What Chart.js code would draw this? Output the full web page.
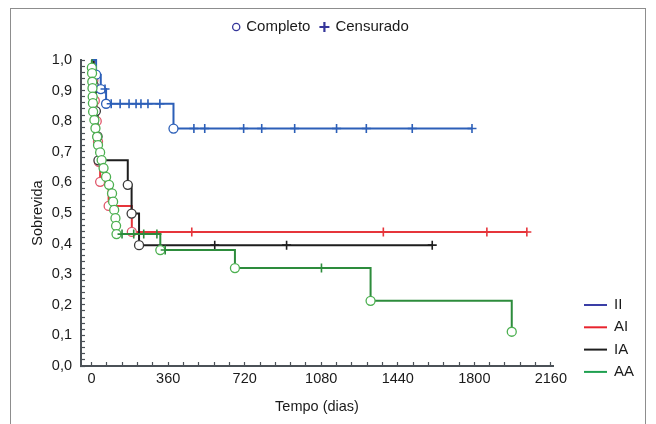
<!DOCTYPE html>
<html>
<head>
<meta charset="utf-8">
<script src="https://cdn.jsdelivr.net/npm/chart.js@4.4.1/dist/chart.umd.min.js"></script>
<style>
    html, body { margin: 0; padding: 0; background: #fff; }
    #wrap { position: relative; width: 656px; height: 424px; overflow: hidden; }
    #frame { position: absolute; left: 10px; top: 8px; width: 634px; height: 440px; border: 1px solid #8d8d8d; }
    #km { position: absolute; left: 0; top: 0; }
</style>
</head>
<body>
<div id="wrap"><div id="frame"></div><canvas id="km" width="656" height="424"></canvas></div>
<script>
// ticks
var xTickLabels = [0, 360, 720, 1080, 1440, 1800, 2160];
var yTickLabels = [0, 0.1, 0.2, 0.3, 0.4, 0.5, 0.6, 0.7, 0.8, 0.9, 1.0];

// s = start, c = completo (circle), x = censurado (cross)
var iiTime = [0, 21, 43, 63, 68, 92, 134, 176, 209, 232, 265, 321, 385, 481, 532, 715, 800, 955, 1152, 1292, 1508, 1789];
var iiSurv = [1, 0.952, 0.905, 0.905, 0.857, 0.857, 0.857, 0.857, 0.857, 0.857, 0.857, 0.857, 0.776, 0.776, 0.776, 0.776, 0.776, 0.776, 0.776, 0.776, 0.776, 0.776];
var iiEvent = ['s', 'c', 'c', 'x', 'c', 'x', 'x', 'x', 'x', 'x', 'x', 'x', 'c', 'x', 'x', 'x', 'x', 'x', 'x', 'x', 'x', 'x'];

var aiTime = [0, 8, 15, 24, 30, 34, 40, 80, 189, 471, 1372, 1859, 2047];
var aiSurv = [1, 0.933, 0.867, 0.80, 0.733, 0.667, 0.602, 0.523, 0.438, 0.438, 0.438, 0.438, 0.438];
var aiEvent = ['s', 'c', 'c', 'c', 'c', 'c', 'c', 'c', 'c', 'x', 'x', 'x', 'x'];

var iaTime = [0, 10, 20, 28, 32, 170, 188, 223, 579, 917, 1602];
var iaSurv = [1, 0.917, 0.833, 0.75, 0.672, 0.592, 0.498, 0.395, 0.395, 0.395, 0.395];
var iaEvent = ['s', 'c', 'c', 'c', 'c', 'c', 'c', 'c', 'x', 'x', 'x'];

var aaTime = [0, 1, 2, 3, 4, 5, 6, 7, 13, 18, 26, 30, 40, 47, 56, 68, 82, 96, 101, 106, 112, 115, 117, 143, 198, 245, 307, 323, 346, 674, 1081, 1312, 1976];
var aaSurv = [1, 0.975, 0.957, 0.929, 0.908, 0.880, 0.859, 0.831, 0.804, 0.777, 0.749, 0.722, 0.698, 0.673, 0.647, 0.618, 0.592, 0.564, 0.537, 0.510, 0.483, 0.458, 0.431, 0.431, 0.431, 0.431, 0.431, 0.379, 0.379, 0.320, 0.320, 0.213, 0.112];
var aaEvent = ['s', 'c', 'c', 'c', 'c', 'c', 'c', 'c', 'c', 'c', 'c', 'c', 'c', 'c', 'c', 'c', 'c', 'c', 'c', 'c', 'c', 'c', 'c', 'x', 'x', 'x', 'x', 'c', 'x', 'c', 'x', 'c', 'c'];

var groupNames = ['II', 'AI', 'IA', 'AA'];

var FONT = '"Liberation Sans", Arial, sans-serif';
var AXIS = '#4b5157';
var KEY = '#35369a';

function toPoints(times, surv) {
    return times.map(function (t, i) { return {x: t, y: surv[i]}; });
}

// minor ticks: five steps between each labelled tick
function withMinor(labels) {
    var out = [];
    for (var i = 0; i < labels.length - 1; i++) {
        for (var k = 0; k < 5; k++) {
            out.push(Math.round((labels[i] + (labels[i + 1] - labels[i]) * k / 5) * 1000) / 1000);
        }
    }
    out.push(labels[labels.length - 1]);
    return out;
}

function isLabel(labels, v) {
    return labels.some(function (l) { return Math.abs(l - v) < 1e-6; });
}

function kmDataset(name, times, surv, events, lineColor, circleColor, order) {
    return {
        label: name,
        data: toPoints(times, surv),
        stepped: true,
        borderColor: lineColor,
        borderWidth: 2,
        fill: false,
        order: order,
        clip: false,
        pointStyle: events.map(function (e) { return e === 'x' ? 'cross' : 'circle'; }),
        pointRadius: events.map(function (e) { return e === 's' ? 0 : 4.5; }),
        pointBorderWidth: events.map(function (e) { return e === 'x' ? 1.6 : 1.3; }),
        pointBorderColor: events.map(function (e) { return e === 'x' ? lineColor : circleColor; }),
        pointBackgroundColor: '#ffffff',
        pointHoverRadius: 0
    };
}

var lineColors = ['#2c5fb8', '#e6353b', '#1e1e1e', '#2d8c3c'];
var legendColors = ['#3a3ea6', '#e8242e', '#1e1e1e', '#1fa050'];

var keyPlugin = {
    id: 'keys',
    afterDraw: function (chart) {
        var ctx = chart.ctx;
        var area = chart.chartArea;
        ctx.save();
        ctx.font = '15px ' + FONT;
        ctx.textBaseline = 'middle';

        // Completo / Censurado key above the plot
        var w1 = ctx.measureText('Completo').width;
        var w2 = ctx.measureText('Censurado').width;
        var total = 9 + 5 + w1 + 10 + 10 + 6 + w2;
        var x = (area.left + area.right) / 2 - total / 2 + 4;
        var y = 27;
        ctx.strokeStyle = KEY;
        ctx.lineWidth = 1.3;
        ctx.beginPath();
        ctx.arc(x + 4, y, 3.6, 0, Math.PI * 2);
        ctx.stroke();
        ctx.fillStyle = '#1a1a1a';
        ctx.fillText('Completo', x + 14, y);
        var cx = x + 14 + w1 + 14;
        ctx.lineWidth = 2.2;
        ctx.beginPath();
        ctx.moveTo(cx - 5, y); ctx.lineTo(cx + 5, y);
        ctx.moveTo(cx, y - 5); ctx.lineTo(cx, y + 5);
        ctx.stroke();
        ctx.fillText('Censurado', cx + 11, y);

        // group legend at the lower right
        var lx = area.right + 31;
        var ly = area.bottom - 61;
        groupNames.forEach(function (name, i) {
            var yy = ly + i * 22.3;
            ctx.strokeStyle = legendColors[i];
            ctx.lineWidth = 2;
            ctx.beginPath();
            ctx.moveTo(lx, yy); ctx.lineTo(lx + 23, yy);
            ctx.stroke();
            ctx.fillStyle = '#1a1a1a';
            ctx.fillText(name, lx + 30, yy);
        });
        ctx.restore();
    }
};

Chart.defaults.font.family = FONT;

new Chart(document.getElementById('km'), {
    type: 'line',
    data: {
        datasets: [
            kmDataset('II', iiTime, iiSurv, iiEvent, lineColors[0], '#2c5fb8', 1),
            kmDataset('AI', aiTime, aiSurv, aiEvent, lineColors[1], '#e0566a', 3),
            kmDataset('IA', iaTime, iaSurv, iaEvent, lineColors[2], '#3a3a3a', 2),
            kmDataset('AA', aaTime, aaSurv, aaEvent, lineColors[3], '#4cb050', 0)
        ]
    },
    options: {
        responsive: false,
        animation: false,
        events: [],
        layout: {
            padding: {top: 60, right: 103, bottom: 0, left: 0}
        },
        plugins: {
            legend: {display: false},
            tooltip: {enabled: false}
        },
        scales: {
            x: {
                type: 'linear',
                min: -50,
                max: 2170,
                afterBuildTicks: function (scale) {
                    scale.ticks = withMinor(xTickLabels).map(function (v) { return {value: v}; });
                },
                afterFit: function (scale) { scale.height = 58; },
                ticks: {
                    autoSkip: false,
                    maxRotation: 0,
                    padding: 8,
                    color: '#1a1a1a',
                    font: {size: 14.5},
                    callback: function (v) { return isLabel(xTickLabels, v) ? String(v) : ''; }
                },
                grid: {drawOnChartArea: false, tickLength: -4, tickColor: AXIS, tickWidth: 1.2},
                border: {color: AXIS, width: 2},
                title: {
                    display: true,
                    text: 'Tempo (dias)',
                    color: '#1a1a1a',
                    font: {size: 14.5},
                    padding: {top: 0, bottom: 8}
                }
            },
            y: {
                type: 'linear',
                min: 0,
                max: 1,
                afterBuildTicks: function (scale) {
                    scale.ticks = withMinor(yTickLabels).map(function (v) { return {value: v}; });
                },
                afterFit: function (scale) { scale.width = 81; },
                ticks: {
                    autoSkip: false,
                    padding: 13,
                    color: '#1a1a1a',
                    font: {size: 14.5},
                    callback: function (v) { return isLabel(yTickLabels, v) ? v.toFixed(1).replace('.', ',') : ''; }
                },
                grid: {drawOnChartArea: false, tickLength: -4, tickColor: AXIS, tickWidth: 1.2},
                border: {color: AXIS, width: 2},
                title: {
                    display: true,
                    text: 'Sobrevida',
                    color: '#1a1a1a',
                    font: {size: 14.5},
                    padding: {top: 29, bottom: 0}
                }
            }
        }
    },
    plugins: [keyPlugin]
});
</script>
</body>
</html>
